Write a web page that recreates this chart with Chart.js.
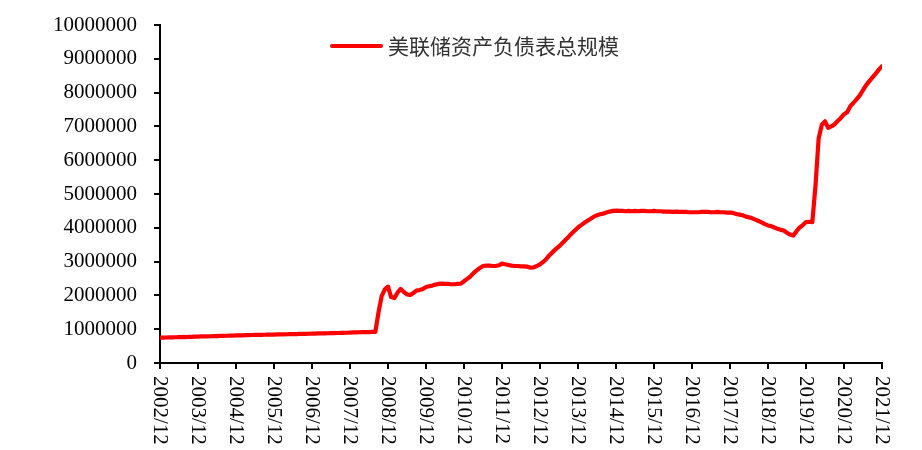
<!DOCTYPE html>
<html>
<head>
<meta charset="utf-8">
<script src="https://cdn.jsdelivr.net/npm/chart.js@4/dist/chart.umd.min.js"></script>
<style>
  html, body { margin: 0; padding: 0; background: #fff; }
  #wrap { width: 922px; height: 450px; }
</style>
</head>
<body>
<div id="wrap"><canvas id="chart" width="922" height="450"></canvas></div>
<script>
// series name
const seriesName = '美联储资产负债表总规模';

// one label per year on the x axis (every 12th month starting 2002/12)
const tickLabels = ['2002/12', '2003/12', '2004/12', '2005/12', '2006/12', '2007/12', '2008/12',
  '2009/12', '2010/12', '2011/12', '2012/12', '2013/12', '2014/12', '2015/12', '2016/12',
  '2017/12', '2018/12', '2019/12', '2020/12', '2021/12'];

const yTicks = [0, 1000000, 2000000, 3000000, 4000000, 5000000, 6000000, 7000000, 8000000, 9000000, 10000000];

// month-end values, 2002/12 .. 2021/12
const totalAssets = [
  750000,
  752000, 755000, 758000, 760000, 762000, 765000, 770000, 768000, 772000, 775000, 778000, 782000,      // 2003
  785000, 788000, 790000, 792000, 795000, 798000, 800000, 803000, 806000, 808000, 812000, 815000,      // 2004
  818000, 820000, 822000, 825000, 828000, 830000, 832000, 835000, 836000, 838000, 840000, 842000,      // 2005
  844000, 846000, 848000, 850000, 852000, 855000, 857000, 859000, 861000, 863000, 866000, 870000,      // 2006
  872000, 874000, 876000, 878000, 880000, 882000, 885000, 888000, 890000, 892000, 895000, 900000,      // 2007
  905000, 908000, 910000, 912000, 915000, 915000, 918000, 920000, 1500000, 1980000, 2180000, 2260000,  // 2008
  1950000, 1920000, 2080000, 2190000, 2100000, 2030000, 2010000, 2070000, 2140000, 2160000, 2190000, 2250000, // 2009
  2270000, 2290000, 2320000, 2340000, 2350000, 2340000, 2340000, 2330000, 2330000, 2340000, 2350000, 2420000, // 2010
  2490000, 2560000, 2660000, 2740000, 2810000, 2870000, 2880000, 2880000, 2870000, 2870000, 2890000, 2940000, // 2011
  2920000, 2900000, 2880000, 2870000, 2870000, 2860000, 2860000, 2850000, 2820000, 2830000, 2870000, 2920000, // 2012
  2990000, 3080000, 3190000, 3280000, 3370000, 3450000, 3540000, 3640000, 3730000, 3830000, 3920000, 4010000, // 2013
  4080000, 4150000, 4210000, 4270000, 4330000, 4370000, 4400000, 4420000, 4450000, 4480000, 4500000, 4510000, // 2014
  4500000, 4500000, 4490000, 4500000, 4490000, 4500000, 4490000, 4500000, 4500000, 4490000, 4490000, 4500000, // 2015
  4490000, 4490000, 4480000, 4480000, 4480000, 4470000, 4480000, 4470000, 4470000, 4470000, 4460000, 4460000, // 2016
  4460000, 4460000, 4470000, 4470000, 4470000, 4460000, 4460000, 4470000, 4460000, 4460000, 4450000, 4450000, // 2017
  4440000, 4410000, 4390000, 4370000, 4330000, 4310000, 4280000, 4240000, 4200000, 4160000, 4110000, 4070000, // 2018
  4050000, 4010000, 3970000, 3940000, 3920000, 3850000, 3800000, 3770000, 3900000, 4010000, 4080000, 4170000, // 2019
  4180000, 4170000, 5250000, 6650000, 7050000, 7150000, 6960000, 7000000, 7060000, 7160000, 7250000, 7360000, // 2020
  7420000, 7600000, 7700000, 7810000, 7920000, 8070000, 8220000, 8340000, 8450000, 8560000, 8680000, 8780000  // 2021
];

const lineColor = '#FF0000';
const serif = '"Times New Roman", "Liberation Serif", serif';

// x labels are rotated clockwise (read top to bottom), drawn under each tick
const rotatedXLabels = {
  id: 'rotatedXLabels',
  afterDraw(chart) {
    const ctx = chart.ctx;
    const xs = chart.scales.x;
    ctx.save();
    ctx.font = '21px ' + serif;
    ctx.fillStyle = '#000';
    ctx.textAlign = 'left';
    ctx.textBaseline = 'middle';
    tickLabels.forEach((lab, i) => {
      const px = xs.getPixelForValue(i * 12);
      ctx.save();
      ctx.translate(px, xs.top + 13);
      ctx.rotate(Math.PI / 2);
      ctx.fillText(lab, 0, 0);
      ctx.restore();
    });
    ctx.restore();
  }
};

// legend sits inside the plot area, left of centre
const innerLegend = {
  id: 'innerLegend',
  afterDraw(chart) {
    const ctx = chart.ctx;
    ctx.save();
    ctx.strokeStyle = lineColor;
    ctx.lineWidth = 4;
    ctx.lineCap = 'round';
    ctx.beginPath();
    ctx.moveTo(332, 46);
    ctx.lineTo(381, 46);
    ctx.stroke();
    ctx.font = '21px "Noto Sans CJK SC", sans-serif';
    ctx.fillStyle = '#333';
    ctx.textAlign = 'left';
    ctx.textBaseline = 'middle';
    ctx.fillText(seriesName, 388, 46);
    ctx.restore();
  }
};

const points = totalAssets.map((v, i) => ({ x: i, y: v }));

new Chart(document.getElementById('chart'), {
  type: 'line',
  data: {
    datasets: [{
      label: seriesName,
      data: points,
      borderColor: lineColor,
      backgroundColor: lineColor,
      borderWidth: 4.2,
      pointRadius: 0,
      tension: 0,
      borderJoinStyle: 'round',
      borderCapStyle: 'round'
    }]
  },
  options: {
    responsive: false,
    animation: false,
    devicePixelRatio: 1,
    layout: { padding: { top: 25, right: 40, left: 0, bottom: 0 } },
    plugins: {
      legend: { display: false },
      tooltip: { enabled: false }
    },
    scales: {
      x: {
        type: 'linear',
        min: 0,
        max: (tickLabels.length - 1) * 12,
        afterBuildTicks(scale) {
          scale.ticks = tickLabels.map((_, i) => ({ value: i * 12 }));
        },
        afterFit(scale) { scale.height = 87; },
        ticks: { display: false },
        grid: {
          drawOnChartArea: false,
          drawTicks: true,
          tickLength: 6,
          color: '#000',
          lineWidth: 2
        },
        border: { display: true, color: '#000', width: 2 }
      },
      y: {
        min: 0,
        max: 10000000,
        afterBuildTicks(scale) {
          scale.ticks = yTicks.map(v => ({ value: v }));
        },
        afterFit(scale) {
          scale.width = 160;
          // the label padding would otherwise push the plot top down
          scale.paddingTop = 0;
          scale.paddingBottom = 0;
        },
        ticks: {
          padding: 17,
          color: '#000',
          font: { family: serif, size: 21 },
          callback: v => String(v)
        },
        grid: {
          drawOnChartArea: false,
          drawTicks: true,
          tickLength: 6,
          color: '#000',
          lineWidth: 2
        },
        border: { display: true, color: '#000', width: 2 }
      }
    }
  },
  plugins: [rotatedXLabels, innerLegend]
});
</script>
</body>
</html>
